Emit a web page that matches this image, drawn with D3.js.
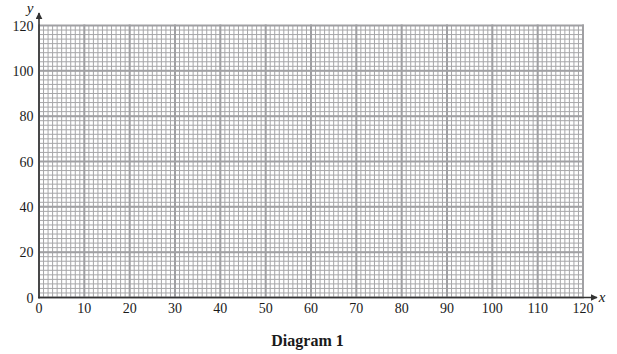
<!DOCTYPE html>
<html>
<head>
<meta charset="utf-8">
<script src="https://cdn.jsdelivr.net/npm/d3@7"></script>
<style>
html,body{margin:0;padding:0;background:#fff;}
svg{display:block;}
text{font-family:"Liberation Serif","Times New Roman",serif;fill:#1a1a1a;}
</style>
</head>
<body>
<svg id="chart" width="617" height="354"></svg>
<script>
const xDomain = [0, 120];
const yDomain = [0, 120];
const xTickLabels = [0, 10, 20, 30, 40, 50, 60, 70, 80, 90, 100, 110, 120];
const yTickLabels = [0, 20, 40, 60, 80, 100, 120];
const xMinorStep = 1;
const yMinorStep = 2;
const xMajorStep = 10;
const yMajorStep = 20;
const title = "Diagram 1";

const svg = d3.select("#chart");
const x = d3.scaleLinear().domain(xDomain).range([39, 583]);
const y = d3.scaleLinear().domain(yDomain).range([297.5, 25.5]);

const xMinor = d3.range(xDomain[0], xDomain[1] + 0.001, xMinorStep);
const yMinor = d3.range(yDomain[0], yDomain[1] + 0.001, yMinorStep);
const xMajor = d3.range(xDomain[0], xDomain[1] + 0.001, xMajorStep);
const yMajor = d3.range(yDomain[0], yDomain[1] + 0.001, yMajorStep);

const grid = svg.append("g");
grid.selectAll(".vmin").data(xMinor).join("line")
  .attr("x1", d => x(d)).attr("x2", d => x(d))
  .attr("y1", y(yDomain[0])).attr("y2", y(yDomain[1]))
  .attr("stroke", "#a6a6a8").attr("stroke-width", 1);
grid.selectAll(".hmin").data(yMinor).join("line")
  .attr("y1", d => y(d)).attr("y2", d => y(d))
  .attr("x1", x(xDomain[0])).attr("x2", x(xDomain[1]))
  .attr("stroke", "#a6a6a8").attr("stroke-width", 1);
grid.selectAll(".vmaj").data(xMajor).join("line")
  .attr("x1", d => x(d)).attr("x2", d => x(d))
  .attr("y1", y(yDomain[0])).attr("y2", y(yDomain[1]) - 1)
  .attr("stroke", "#a0a0a3").attr("stroke-width", 2);
grid.selectAll(".hmaj").data(yMajor).join("line")
  .attr("y1", d => y(d)).attr("y2", d => y(d))
  .attr("x1", x(xDomain[0])).attr("x2", x(xDomain[1]) + 1)
  .attr("stroke", "#a0a0a3").attr("stroke-width", 2);

// axes with arrows
const defs = svg.append("defs");
defs.append("marker").attr("id", "arr").attr("viewBox", "0 0 10 10")
  .attr("refX", 9).attr("refY", 5).attr("markerWidth", 7).attr("markerHeight", 7)
  .attr("markerUnits", "userSpaceOnUse").attr("orient", "auto")
  .append("path").attr("d", "M0,0 L10,5 L0,10 Z").attr("fill", "#333");

svg.append("line")
  .attr("x1", x(0) - 1).attr("x2", 597)
  .attr("y1", y(0)).attr("y2", y(0))
  .attr("stroke", "#333").attr("stroke-width", 1.6)
  .attr("marker-end", "url(#arr)");
svg.append("line")
  .attr("x1", x(0)).attr("x2", x(0))
  .attr("y1", y(0) + 1).attr("y2", 13)
  .attr("stroke", "#333").attr("stroke-width", 1.6)
  .attr("marker-end", "url(#arr)");

// tick labels
svg.append("g").selectAll("text").data(xTickLabels).join("text")
  .attr("x", d => x(d)).attr("y", 312.5)
  .attr("text-anchor", "middle").attr("font-size", 14)
  .text(d => d);
svg.append("g").selectAll("text").data(yTickLabels).join("text")
  .attr("x", 33.5).attr("y", d => y(d) + 5)
  .attr("text-anchor", "end").attr("font-size", 14)
  .text(d => d);

svg.append("text").attr("x", 30).attr("y", 13)
  .attr("text-anchor", "middle").attr("font-size", 15).attr("font-style", "italic").text("y");
svg.append("text").attr("x", 602).attr("y", 302)
  .attr("text-anchor", "middle").attr("font-size", 15).attr("font-style", "italic").text("x");

svg.append("text").attr("x", 307.5).attr("y", 345.5)
  .attr("text-anchor", "middle").attr("font-size", 16).attr("font-weight", "bold").text(title);
</script>
</body>
</html>
